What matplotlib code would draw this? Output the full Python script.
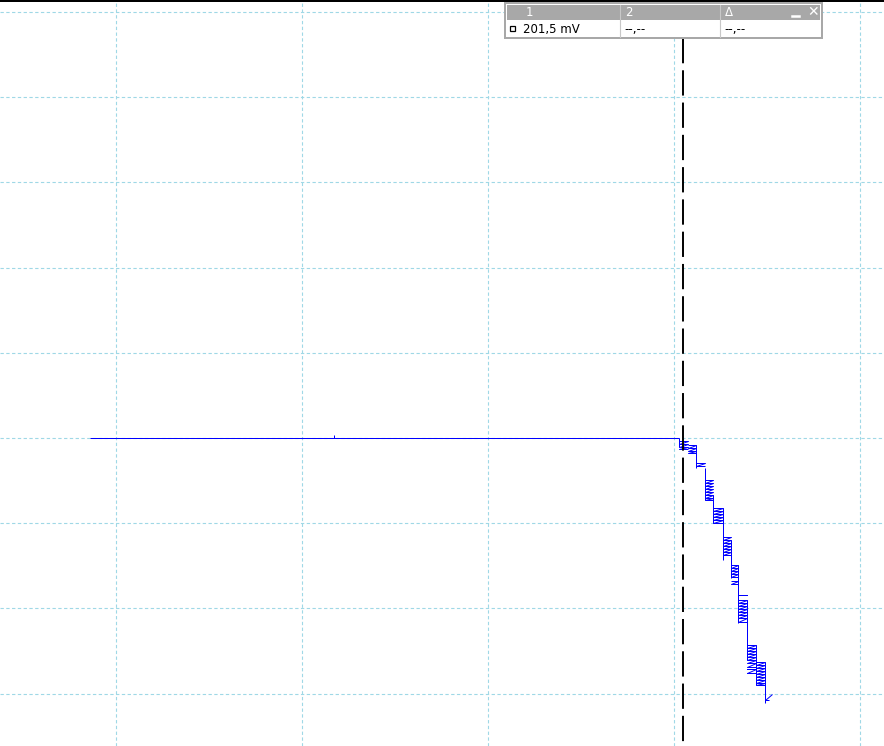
import matplotlib
matplotlib.use("Agg")
import matplotlib.pyplot as plt
from matplotlib.patches import Rectangle

W, H, DPI = 884, 746, 100

GRID = "#9fd8e6"
TRACE = "#0000ff"
HEADER = "#a8a8a8"

# scope scales: 10 ms/div, 200 mV/div
T_MIN, T_MAX = -6.237, 41.29
V_MIN, V_MAX = -723.0, 1028.2
t_grid = [0, 10, 20, 30, 40]
v_grid = [1000, 800, 600, 400, 200, 0, -200, -400, -600]

# flat part of the trace (ms, mV)
flat_t = [-1.40, 30.27]
flat_v = [0, 0]
glitch_t = 11.72
glitch_v = [0, 7]

# vertical edges of the falling staircase: time, top, bottom
edge_t = [30.27, 31.18, 31.67, 32.10, 32.63, 33.06, 33.44, 33.92, 34.41, 34.89]
edge_top = [0, -16, -70, -134, -164, -239, -298, -380, -486, -526]
edge_bot = [-21, -70, -146, -200, -286, -329, -434, -521, -580, -622]

# noisy toggling blocks between two sample times: t0, t1, levels
block_t0 = [30.27, 30.75, 31.18, 31.67, 32.10, 32.63, 33.06, 33.06, 33.44, 33.44, 33.92, 33.92, 34.41]
block_t1 = [30.75, 31.18, 31.67, 32.10, 32.63, 33.06, 33.44, 33.44, 33.92, 33.92, 34.41, 34.41, 34.89]
block_v = [
    [-7, -14, -21, -26],
    [-16, -23, -30, -35],
    [-58, -66],
    [-99, -106, -113, -120, -127, -134, -141, -146],
    [-164, -171, -178, -185, -192, -199],
    [-232, -239, -246, -253, -260, -267, -275],
    [-298, -305, -312, -319, -326],
    [-336, -343],
    [-368, -368],
    [-380, -387, -394, -401, -408, -415, -422, -432],
    [-486, -493, -500, -507, -514, -521, -528, -537],
    [-542, -542, -551, -551],
    [-526, -533, -540, -547, -554, -561, -568, -575, -580],
]
tail_t = [34.89, 35.27]
tail_v = [-615, -601]

cursor_t = 30.48
cursor_readout = "201,5 mV"


def main():
    fig = plt.figure(figsize=(W / DPI, H / DPI), dpi=DPI)
    fig.patch.set_facecolor("white")
    ax = fig.add_axes([0, 0, 1, 1])
    ax.set_axis_off()
    ax.set_xlim(T_MIN, T_MAX)
    ax.set_ylim(V_MIN, V_MAX)

    for t in t_grid:
        ax.axvline(t, color=GRID, lw=0.8, dashes=(3, 2.2), zorder=1)
    for v in v_grid:
        ax.axhline(v, color=GRID, lw=0.8, dashes=(3, 2.2), zorder=1)

    kw = dict(color=TRACE, lw=0.72, snap=True, zorder=3,
              solid_capstyle="butt")
    ax.plot(flat_t, flat_v, **kw)
    ax.plot([glitch_t, glitch_t], glitch_v, **kw)
    for t, a, b in zip(edge_t, edge_top, edge_bot):
        ax.plot([t, t], [a, b], **kw)
    # each block: right-going runs joined by diagonals back to the left
    for t0, t1, levels in zip(block_t0, block_t1, block_v):
        xs, ys = [], []
        for v in levels:
            xs += [t0, t1]
            ys += [v, v]
        ax.plot(xs, ys, **kw)
    ax.plot(tail_t, tail_v, **kw)
    ax.plot([tail_t[0], tail_t[0] + 0.2], [tail_v[0], tail_v[0]], **kw)

    # cursor line
    v_top = V_MAX - (38 / H) * (V_MAX - V_MIN)
    ax.plot([cursor_t, cursor_t], [v_top, V_MIN], color="black", lw=1.4,
            dashes=(13, 3.6), zorder=4)

    # black strip at the top of the screen
    fig.patches.append(Rectangle((0, 1 - 2 / H), 1, 2 / H,
                                 transform=fig.transFigure,
                                 facecolor="black", edgecolor="none"))

    # cursor readout window
    bx = fig.add_axes([504 / W, 1 - 39 / H, 319 / W, 37 / H])
    bx.set_axis_off()
    bx.set_xlim(504, 823)
    bx.set_ylim(39, 2)
    bx.add_patch(Rectangle((504, 2), 319, 37, facecolor=HEADER,
                           edgecolor="none"))
    bx.add_patch(Rectangle((506, 4), 315, 33, facecolor="white",
                           edgecolor="none"))
    bx.add_patch(Rectangle((507, 5), 313, 15, facecolor=HEADER,
                           edgecolor="none"))
    for xs in [620, 720]:
        bx.plot([xs, xs], [5, 37], color="#c8c8c8", lw=0.8)
    head_font = dict(fontsize=8.5, color="white", va="center", ha="left",
                     family="DejaVu Sans")
    bx.text(526, 12.5, "1", **head_font)
    bx.text(625, 12.5, "2", **head_font)
    bx.text(725, 12.5, "Δ", **head_font)
    bx.plot([792, 799], [16, 16], color="white", lw=1.8)
    bx.text(813, 12, "✕", fontsize=10, color="white", va="center",
            ha="center", weight="bold", family="DejaVu Sans")
    bx.add_patch(Rectangle((509.5, 26), 5, 5, facecolor="white",
                           edgecolor="black", lw=0.9))
    row_font = dict(fontsize=8.5, color="black", va="center", ha="left",
                    family="DejaVu Sans")
    bx.text(523, 29, cursor_readout, **row_font)
    bx.text(624, 29, "--,--", **row_font)
    bx.text(724, 29, "--,--", **row_font)

    fig.savefig("out.png", dpi=DPI)


if __name__ == "__main__":
    main()
